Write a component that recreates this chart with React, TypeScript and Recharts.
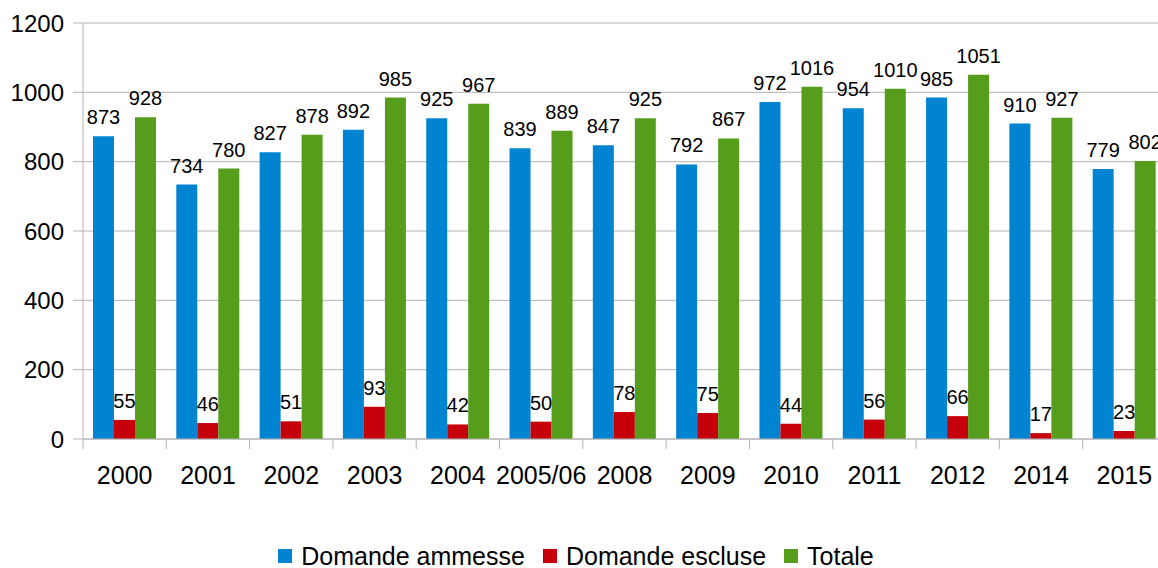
import React from 'react';
import { BarChart, Bar, XAxis, YAxis, CartesianGrid, Legend, LabelList } from 'recharts';

const years = ['2000', '2001', '2002', '2003', '2004', '2005/06', '2008', '2009', '2010', '2011', '2012', '2014', '2015'];
const ammesse = [873, 734, 827, 892, 925, 839, 847, 792, 972, 954, 985, 910, 779];
const escluse = [55, 46, 51, 93, 42, 50, 78, 75, 44, 56, 66, 17, 23];
const totale = [928, 780, 878, 985, 967, 889, 925, 867, 1016, 1010, 1051, 927, 802];
const yTicks = [0, 200, 400, 600, 800, 1000, 1200];

const series = [
  { key: 'ammesse', name: 'Domande ammesse', color: '#0084D1' },
  { key: 'escluse', name: 'Domande escluse', color: '#C5000B' },
  { key: 'totale', name: 'Totale', color: '#579D1C' },
];

const data = years.map((year, i) => ({
  year,
  ammesse: ammesse[i],
  escluse: escluse[i],
  totale: totale[i],
}));

const FONT = '"Liberation Sans", Arial, sans-serif';
const AXIS = '#b3b3b3';
const CHART_W = 1170;
const CHART_H = 568;
const Y_W = 83;
const M_RIGHT = 4;
const BAND = (CHART_W - Y_W - M_RIGHT) / years.length;

// label centred in the band, short tick at the band's left edge
const YearTick = (props: any) => {
  const { x, y, payload } = props;
  const edge = x - BAND / 2;
  return (
    <g>
      <line x1={edge} y1={y} x2={edge} y2={y + 10} stroke={AXIS} />
      <text x={x} y={y + 45} textAnchor="middle" fontSize={25} fill="#000" fontFamily={FONT}>
        {payload.value}
      </text>
    </g>
  );
};

const LegendBox = () => (
  <div
    style={{
      display: 'flex',
      justifyContent: 'center',
      alignItems: 'flex-start',
      height: 60,
      paddingTop: 36,
      boxSizing: 'border-box',
      fontFamily: FONT,
      fontSize: 25,
      lineHeight: '24px',
      color: '#000',
    }}
  >
    {series.map((s) => (
      <div key={s.key} style={{ display: 'flex', alignItems: 'center', marginRight: 18, height: 24 }}>
        <span style={{ width: 14, height: 14, background: s.color, marginRight: 9, display: 'inline-block' }} />
        <span>{s.name}</span>
      </div>
    ))}
  </div>
);

export default function App() {
  return (
    <div style={{ position: 'absolute', left: 0, top: 0, width: 1158, height: 568, overflow: 'hidden', background: '#fff' }}>
      <BarChart
        width={CHART_W}
        height={CHART_H}
        data={data}
        margin={{ top: 23, right: M_RIGHT, bottom: 0, left: 0 }}
        barCategoryGap="12%"
        barGap={0}
        style={{ fontFamily: FONT }}
      >
        <CartesianGrid vertical={false} stroke={AXIS} />
        <XAxis
          dataKey="year"
          height={69}
          stroke={AXIS}
          tickLine={false}
          tickSize={0}
          tickMargin={0}
          interval={0}
          tick={<YearTick />}
        />
        <YAxis
          width={Y_W}
          domain={[0, 1200]}
          ticks={yTicks}
          stroke={AXIS}
          tickSize={10}
          tickMargin={9}
          tick={{ fontSize: 24, fill: '#000', fontFamily: FONT }}
        />
        <Legend
          verticalAlign="bottom"
          content={<LegendBox />}
          wrapperStyle={{ left: 0, width: CHART_W, bottom: 0, height: 60 }}
        />
        {series.map((s) => (
          <Bar key={s.key} dataKey={s.key} name={s.name} fill={s.color} isAnimationActive={false}>
            <LabelList dataKey={s.key} position="top" offset={12} fontSize={20} fill="#000" fontFamily={FONT} />
          </Bar>
        ))}
      </BarChart>
    </div>
  );
}
